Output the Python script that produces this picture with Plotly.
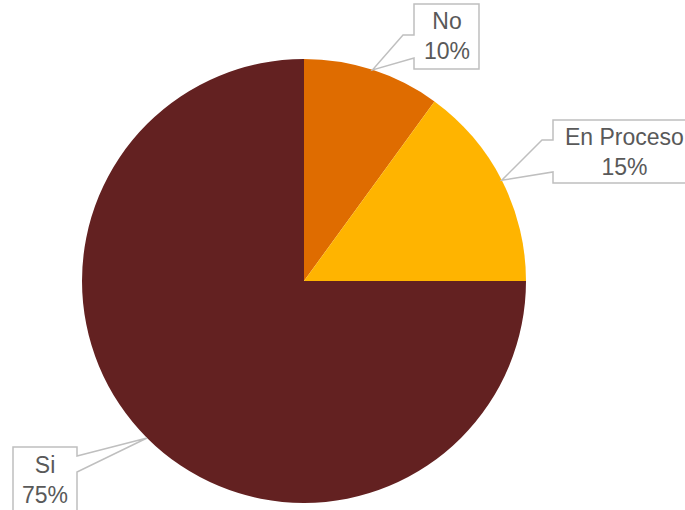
import math
import plotly.graph_objects as go

# Survey answers and their shares
categories = ["No", "En Proceso", "Si"]
values = [10, 15, 75]
colors = ["#DF6C00", "#FFB400", "#632121"]

W, H = 685, 510
CX, CY, R = 304, 281, 222  # pie centre and radius, in pixels

def px(x):
    return x / W

def py(y):
    return 1 - y / H

total = sum(values)

# Callout boxes (pixel rectangles), side of the wedge, wedge base heights, kink length
callouts = {
    "No": dict(box=(414, 4, 479, 69), side="left", base=(35, 58), kink=11),
    "En Proceso": dict(box=(553, 120, 695, 183), side="left", base=(140, 172), kink=11),
    "Si": dict(box=(13, 447, 77, 513), side="right", base=(456, 472), kink=0),
}

fig = go.Figure(go.Pie(
    labels=categories,
    values=values,
    marker=dict(colors=colors, line=dict(width=0)),
    sort=False,
    direction="clockwise",
    rotation=0,
    textinfo="none",
    hoverinfo="label+percent",
    showlegend=False,
    domain=dict(x=[px(CX - R), px(CX + R)], y=[py(CY + R), py(CY - R)]),
))

shapes = []
annotations = []
cum = 0
for cat, v in zip(categories, values):
    mid = (cum + v / 2) / total * 2 * math.pi
    cum += v
    tx = CX + R * math.sin(mid)
    ty = CY - R * math.cos(mid)
    c = callouts[cat]
    x0, y0, x1, y1 = c["box"]
    ya, yb = c["base"]
    k = c["kink"]
    if c["side"] == "left":
        pts = [(x0, y0), (x1, y0), (x1, y1), (x0, y1), (x0, yb), (tx, ty),
               (x0 - k, ya), (x0, ya)]
    else:
        pts = [(x1, y0), (x1, ya), (x1 + k, ya), (tx, ty), (x1, yb), (x1, y1),
               (x0, y1), (x0, y0)]
    path = "M " + " L ".join(f"{px(x):.5f},{py(y):.5f}" for x, y in pts) + " Z"
    shapes.append(dict(type="path", xref="paper", yref="paper", path=path,
                       fillcolor="white", line=dict(color="#BFBFBF", width=1.5),
                       layer="above"))
    pct = f"{v / total * 100:.0f}%"
    annotations.append(dict(
        xref="paper", yref="paper",
        x=px((x0 + x1) / 2), y=py((y0 + y1) / 2),
        xanchor="center", yanchor="middle",
        text=f"{cat}<br>{pct}", showarrow=False, align="center",
        font=dict(family="Liberation Sans, Arial, sans-serif", size=23, color="#595959"),
    ))

fig.update_layout(
    width=W, height=H,
    margin=dict(l=0, r=0, t=0, b=0),
    paper_bgcolor="white",
    plot_bgcolor="white",
    shapes=shapes,
    annotations=annotations,
)

fig.write_html("out.html")
